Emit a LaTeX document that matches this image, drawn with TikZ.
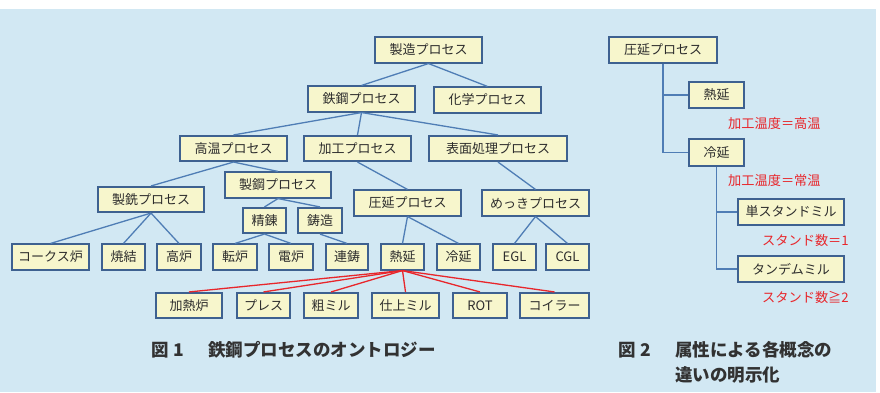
\documentclass[tikz,border=0pt]{standalone}
\usepackage{fontspec}
\setmainfont{Noto Sans CJK JP}
\definecolor{bgblue}{RGB}{210,232,243}
\definecolor{boxfill}{RGB}{247,246,204}
\definecolor{boxedge}{RGB}{62,97,144}
\definecolor{linkblue}{RGB}{79,125,181}
\definecolor{linkred}{RGB}{232,38,43}
\definecolor{txt}{RGB}{45,45,45}
\definecolor{captxt}{RGB}{50,50,50}
\tikzset{
  bx/.style={draw=boxedge, line width=1.6pt, fill=boxfill, text=txt, inner sep=0pt,
    minimum height=25.5pt, font=\fontsize{13}{13}\selectfont},
  bl/.style={draw=linkblue, line width=1.3pt},
  rd/.style={draw=linkred, line width=1.3pt},
  note/.style={text=linkred, inner sep=0pt, font=\fontsize{13.2}{13.2}\selectfont},
  captionstyle/.style={text=captxt, inner sep=0pt, anchor=west, font=\fontsize{17.5}{17.5}\selectfont\bfseries}
}
\begin{document}
\begin{tikzpicture}[x=1pt,y=-1pt]
\useasboundingbox (0,0) rectangle (880,392);
\fill[white] (0,0) rectangle (880,392);
\fill[bgblue] (0,9) rectangle (876,392);

% ---- Figure 1 nodes ----
\node[bx, minimum width=107pt] (seizo) at (428.5,50) {製造プロセス};
\node[bx, minimum width=107pt] (tekko) at (361.5,99) {鉄鋼プロセス};
\node[bx, minimum width=107pt] (kagaku) at (487.5,100) {化学プロセス};
\node[bx, minimum width=107pt] (koon) at (233.5,148.5) {高温プロセス};
\node[bx, minimum width=107pt] (kako) at (357.5,148.5) {加工プロセス};
\node[bx, minimum width=138pt] (hyomen) at (498,148.5) {表面処理プロセス};
\node[bx, minimum width=106pt] (seisen) at (151,199.5) {製銑プロセス};
\node[bx, minimum width=106pt] (seiko) at (278,185) {製鋼プロセス};
\node[bx, minimum width=107pt] (atsuen) at (407.5,203) {圧延プロセス};
\node[bx, minimum width=107pt] (mekki) at (535.5,203) {めっきプロセス};
\node[bx, minimum width=43pt] (seiren) at (264.5,220.5) {精錬};
\node[bx, minimum width=44pt] (chuzo) at (320,220.5) {鋳造};
\node[bx, minimum width=77pt] (coke) at (50.5,257) {コークス炉};
\node[bx, minimum width=43pt] (shoketsu) at (123.5,257) {焼結};
\node[bx, minimum width=44pt] (koro) at (179,257) {高炉};
\node[bx, minimum width=44pt] (tenro) at (235,257) {転炉};
\node[bx, minimum width=44pt] (denro) at (291,257) {電炉};
\node[bx, minimum width=42pt] (renchu) at (347,257) {連鋳};
\node[bx, minimum width=43pt] (netsuen) at (402.5,257) {熱延};
\node[bx, minimum width=43pt] (reien) at (458.5,257) {冷延};
\node[bx, minimum width=43pt] (egl) at (514.5,257) {EGL};
\node[bx, minimum width=43pt] (cgl) at (567.5,257) {CGL};
\node[bx, minimum width=66pt] (kanetsuro) at (189,305.5) {加熱炉};
\node[bx, minimum width=53pt] (press) at (263.5,305.5) {プレス};
\node[bx, minimum width=54pt] (soro) at (331,305.5) {粗ミル};
\node[bx, minimum width=67pt] (shiage) at (405.5,305.5) {仕上ミル};
\node[bx, minimum width=54pt] (rot) at (480,305.5) {ROT};
\node[bx, minimum width=69pt] (coiler) at (554.5,305.5) {コイラー};

% ---- Figure 1 links ----
\draw[bl] (seizo.south) -- (tekko.north);
\draw[bl] (seizo.south) -- (kagaku.north);
\draw[bl] (tekko.south) -- (koon.north);
\draw[bl] (tekko.south) -- (kako.north);
\draw[bl] (tekko.south) -- (hyomen.north);
\draw[bl] (koon.south) -- (seisen.north);
\draw[bl] (koon.south) -- (seiko.north);
\draw[bl] (kako.south) -- (atsuen.north);
\draw[bl] (hyomen.south) -- (mekki.north);
\draw[bl] (seisen.south) -- (coke.north);
\draw[bl] (seisen.south) -- (shoketsu.north);
\draw[bl] (seisen.south) -- (koro.north);
\draw[bl] (seiko.south) -- (seiren.north);
\draw[bl] (seiko.south) -- (chuzo.north);
\draw[bl] (seiren.south) -- (tenro.north);
\draw[bl] (seiren.south) -- (denro.north);
\draw[bl] (chuzo.south) -- (renchu.north);
\draw[bl] (atsuen.south) -- (netsuen.north);
\draw[bl] (atsuen.south) -- (reien.north);
\draw[bl] (mekki.south) -- (egl.north);
\draw[bl] (mekki.south) -- (cgl.north);
\draw[rd] (netsuen.south) -- (kanetsuro.north);
\draw[rd] (netsuen.south) -- (press.north);
\draw[rd] (netsuen.south) -- (soro.north);
\draw[rd] (netsuen.south) -- (shiage.north);
\draw[rd] (netsuen.south) -- (rot.north);
\draw[rd] (netsuen.south) -- (coiler.north);

% ---- Figure 2 ----
\node[bx, minimum width=108pt] (atsuen2) at (663,50) {圧延プロセス};
\node[bx, minimum width=55pt] (netsuen2) at (716.5,95) {熱延};
\node[bx, minimum width=55pt, minimum height=27pt] (reien2) at (716.5,152.5) {冷延};
\node[bx, minimum width=106pt] (tan) at (791,212) {単スタンドミル};
\node[bx, minimum width=106pt] (tandem) at (791,269) {タンデムミル};
\draw[bl] (atsuen2.south) |- (netsuen2.west);
\draw[bl] (atsuen2.south) |- (reien2.west);
\draw[bl] (reien2.south) |- (tan.west);
\draw[bl] (reien2.south) |- (tandem.west);
\node[note, anchor=west] (n1) at (728,123) {加工温度＝高温};
\node[note, anchor=west] (n2) at (728,180) {加工温度＝常温};
\node[note, anchor=west] (n3) at (762,240) {スタンド数＝1};
\node[note, anchor=west] (n4) at (762,297) {スタンド数≧2};

% ---- captions ----
\node[captionstyle] (cap1) at (151,350) {図\hspace{0.3em}1\hspace{1.35em}鉄鋼プロセスのオントロジー};
\node[captionstyle] (cap2a) at (618,350) {図\hspace{0.3em}2\hspace{1.35em}属性による各概念の};
\node[captionstyle] (cap2b) at (675,375) {違いの明示化};
\end{tikzpicture}
\end{document}
